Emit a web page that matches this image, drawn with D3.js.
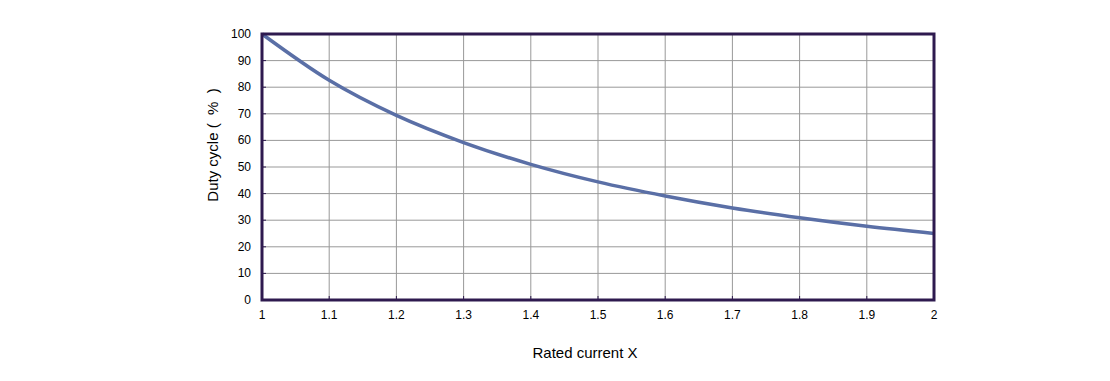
<!DOCTYPE html>
<html><head><meta charset="utf-8">
<script src="https://cdn.jsdelivr.net/npm/d3@7"></script>
<style>body{margin:0;background:#fff;} text{font-family:"Liberation Sans",Arial,sans-serif;}</style>
</head><body>
<svg id="c" width="1110" height="381"></svg>
<script>
const xValues = [1, 1.1, 1.2, 1.3, 1.4, 1.5, 1.6, 1.7, 1.8, 1.9, 2];
const dutyCycle = [100, 82.6, 69.4, 59.2, 51, 44.4, 39.1, 34.6, 30.9, 27.7, 25];
const xTicks = [1, 1.1, 1.2, 1.3, 1.4, 1.5, 1.6, 1.7, 1.8, 1.9, 2];
const yTicks = [0, 10, 20, 30, 40, 50, 60, 70, 80, 90, 100];

const svg = d3.select("#c");
const L = 262, R = 934, T = 34, B = 300;
const x = d3.scaleLinear().domain([1, 2]).range([L, R]);
const y = d3.scaleLinear().domain([0, 100]).range([B, T]);

// gridlines
svg.append("g").selectAll("line").data(xTicks.slice(1, -1)).join("line")
  .attr("x1", d => x(d)).attr("x2", d => x(d)).attr("y1", T).attr("y2", B)
  .attr("stroke", "#999").attr("stroke-width", 1);
svg.append("g").selectAll("line").data(yTicks.slice(1, -1)).join("line")
  .attr("x1", L).attr("x2", R).attr("y1", d => y(d)).attr("y2", d => y(d))
  .attr("stroke", "#999").attr("stroke-width", 1);

// small inner ticks
svg.append("g").selectAll("line").data(yTicks).join("line")
  .attr("x1", L).attr("x2", L + 4).attr("y1", d => y(d)).attr("y2", d => y(d))
  .attr("stroke", "#2e1a4f").attr("stroke-width", 1);
svg.append("g").selectAll("line").data(xTicks).join("line")
  .attr("x1", d => x(d)).attr("x2", d => x(d)).attr("y1", B).attr("y2", B - 4)
  .attr("stroke", "#2e1a4f").attr("stroke-width", 1);

// tick labels
svg.append("g").selectAll("text").data(yTicks).join("text")
  .attr("x", 251).attr("y", d => y(d) + 4).attr("text-anchor", "end")
  .attr("font-size", 12).attr("fill", "#000").text(d => d);
svg.append("g").selectAll("text").data(xTicks).join("text")
  .attr("x", d => x(d)).attr("y", 319).attr("text-anchor", "middle")
  .attr("font-size", 12).attr("fill", "#000").text(d => d);

// curve
const pts = xValues.map((v, i) => [v, dutyCycle[i]]);
svg.append("path").datum(pts)
  .attr("d", d3.line().x(d => x(d[0])).y(d => y(d[1])).curve(d3.curveMonotoneX))
  .attr("fill", "none").attr("stroke", "#5a6fa6").attr("stroke-width", 3.5);

// border
svg.append("rect").attr("x", L).attr("y", T).attr("width", R - L).attr("height", B - T)
  .attr("fill", "none").attr("stroke", "#2e1a4f").attr("stroke-width", 3);

// axis titles
svg.append("text").attr("x", 585).attr("y", 358).attr("text-anchor", "middle")
  .attr("font-size", 15).attr("fill", "#000").text("Rated current X");
svg.append("text").attr("transform", "translate(218,145) rotate(-90)")
  .attr("text-anchor", "middle").attr("font-size", 15).attr("fill", "#000")
  .attr("xml:space", "preserve").style("white-space", "pre")
  .text("Duty cycle (  %  )");
</script>
</body></html>
